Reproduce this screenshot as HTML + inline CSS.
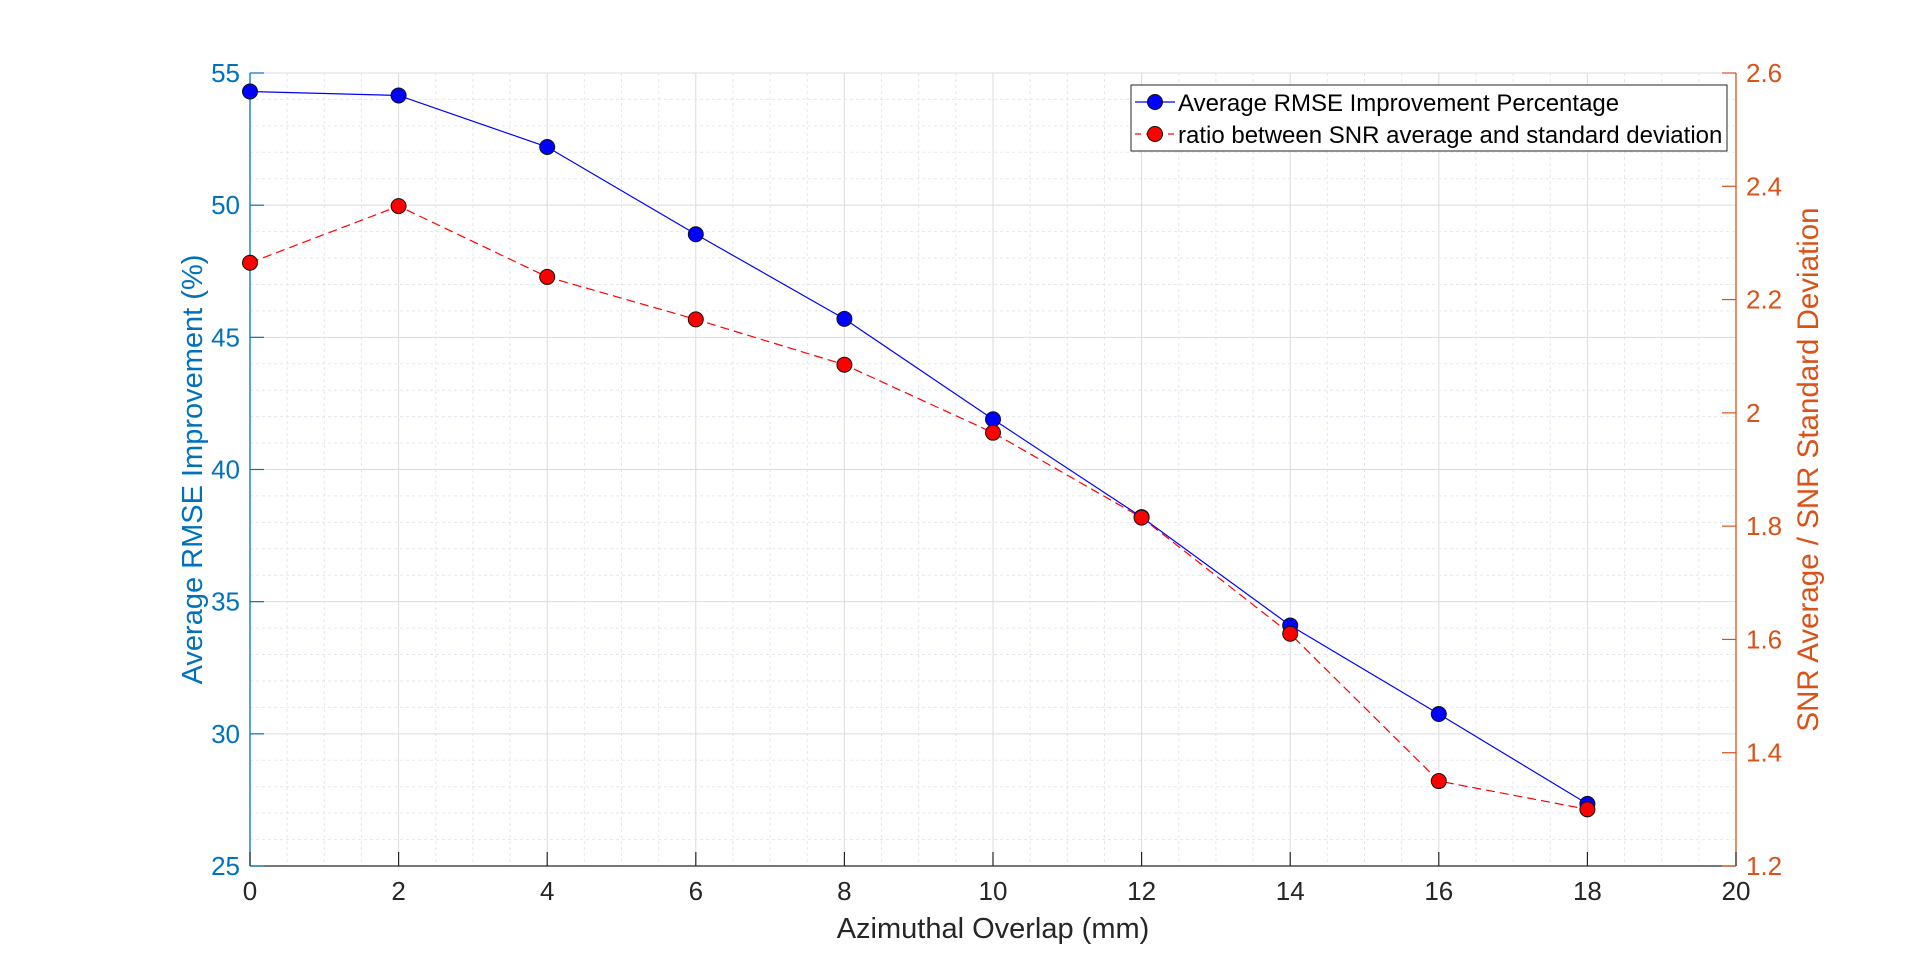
<!DOCTYPE html>
<html><head><meta charset="utf-8"><style>
html,body{margin:0;padding:0;background:#fff;}
svg{display:block;font-family:"Liberation Sans",Arial,sans-serif;}
</style></head><body>
<svg id="chart" width="1920" height="973" viewBox="0 0 1920 973"></svg>
<script>
const categories=[0,2,4,6,8,10,12,14,16,18];
const rmseValues=[54.3,54.15,52.2,48.9,45.7,41.9,38.2,34.1,30.75,27.35];
const ratioValues=[2.265,2.365,2.24,2.165,2.085,1.965,1.815,1.61,1.35,1.3];
const xTicks=[0,2,4,6,8,10,12,14,16,18,20];
const yLeftTicks=[25,30,35,40,45,50,55];
const yRightTicks=[1.2,1.4,1.6,1.8,2,2.2,2.4,2.6];

const L=250,R=1736,T=73,B=866;
const NS="http://www.w3.org/2000/svg";
const svg=document.getElementById('chart');
const xS=v=>L+(v-0)/(20-0)*(R-L);
const yL=v=>B-(v-25)/(55-25)*(B-T);
const yR=v=>B-(v-1.2)/(2.6-1.2)*(B-T);
function mk(tag,attrs,parent){const e=document.createElementNS(NS,tag);for(const k in attrs)e.setAttribute(k,attrs[k]);(parent||svg).appendChild(e);return e;}

const grid=mk('g',{});


for(let v=0;v<=20;v+=0.5){const x=xS(v);const major=Math.abs(v%2)<1e-9;
 mk('line',{x1:x,x2:x,y1:T,y2:B,stroke:major?'#dcdcdc':'#e3e8ee','stroke-width':1,'stroke-dasharray':major?'':'3,3'},grid);}
for(let v=25;v<=55;v+=1){const y=yL(v);const major=v%5===0;
 mk('line',{x1:L,x2:R,y1:y,y2:y,stroke:major?'#dcdcdc':'#e3e8ee','stroke-width':1,'stroke-dasharray':major?'':'3,3'},grid);}

const axL=mk('line',{x1:L,x2:L,y1:T,y2:B,stroke:'#0072bd','stroke-width':1.3});

const axR=mk('line',{x1:R,x2:R,y1:T,y2:B,stroke:'#d95319','stroke-width':1.3});

const axB=mk('line',{x1:L,x2:R,y1:B,y2:B,stroke:'#262626','stroke-width':1.3});


xTicks.forEach(v=>{const x=xS(v);
 mk('line',{x1:x,x2:x,y1:B,y2:B-14,stroke:'#262626','stroke-width':1.2});
 const t=mk('text',{x:x,y:B+34,'text-anchor':'middle','font-size':26,fill:'#262626'});t.textContent=v;
 });
yLeftTicks.forEach(v=>{const y=yL(v);
 mk('line',{x1:L,x2:L+14,y1:y,y2:y,stroke:'#0072bd','stroke-width':1.2});
 const t=mk('text',{x:L-10,y:y+9,'text-anchor':'end','font-size':26,fill:'#0072bd'});t.textContent=v;
 });
yRightTicks.forEach(v=>{const y=yR(v);
 mk('line',{x1:R,x2:R-14,y1:y,y2:y,stroke:'#d95319','stroke-width':1.2});
 const t=mk('text',{x:R+10,y:y+9,'text-anchor':'start','font-size':26,fill:'#d95319'});t.textContent=v;
 });

let t=mk('text',{x:(L+R)/2,y:938,'text-anchor':'middle','font-size':29,fill:'#262626'});t.textContent='Azimuthal Overlap (mm)';

t=mk('text',{x:0,y:0,'text-anchor':'middle','font-size':29,fill:'#0072bd',transform:`translate(202,${(T+B)/2}) rotate(-90)`});t.textContent='Average RMSE Improvement (%)';

t=mk('text',{x:0,y:0,'text-anchor':'middle','font-size':29.5,fill:'#d95319',transform:`translate(1818,${(T+B)/2}) rotate(-90)`});t.textContent='SNR Average / SNR Standard Deviation';


const blue=mk('polyline',{points:categories.map((c,i)=>xS(c)+','+yL(rmseValues[i])).join(' '),fill:'none',stroke:'#0000ff','stroke-width':1.2});

const red=mk('polyline',{points:categories.map((c,i)=>xS(c)+','+yR(ratioValues[i])).join(' '),fill:'none',stroke:'#ff0000','stroke-width':1.2,'stroke-dasharray':'9,5'});

categories.forEach((c,i)=>{const p=mk('circle',{cx:xS(c),cy:yL(rmseValues[i]),r:7.5,fill:'#0000ff',stroke:'#111','stroke-width':1});
 });
categories.forEach((c,i)=>{const p=mk('circle',{cx:xS(c),cy:yR(ratioValues[i]),r:7.5,fill:'#ff0000',stroke:'#111','stroke-width':1});
 });

const lg=mk('g',{});

mk('rect',{x:1131,y:85,width:596,height:66,fill:'#fff',stroke:'#262626','stroke-width':1},lg);
mk('line',{x1:1135,x2:1175,y1:102,y2:102,stroke:'#0000ff','stroke-width':1.2},lg);
mk('circle',{cx:1155,cy:102,r:7.5,fill:'#0000ff',stroke:'#111'},lg);
t=mk('text',{x:1178,y:111,'font-size':24,fill:'#000'},lg);t.textContent='Average RMSE Improvement Percentage';

mk('line',{x1:1135,x2:1175,y1:134,y2:134,stroke:'#ff0000','stroke-width':1.2,'stroke-dasharray':'6,5'},lg);
mk('circle',{cx:1155,cy:134,r:7.5,fill:'#ff0000',stroke:'#111'},lg);
t=mk('text',{x:1178,y:143,'font-size':24,fill:'#000'},lg);t.textContent='ratio between SNR average and standard deviation';

</script>
</body></html>
